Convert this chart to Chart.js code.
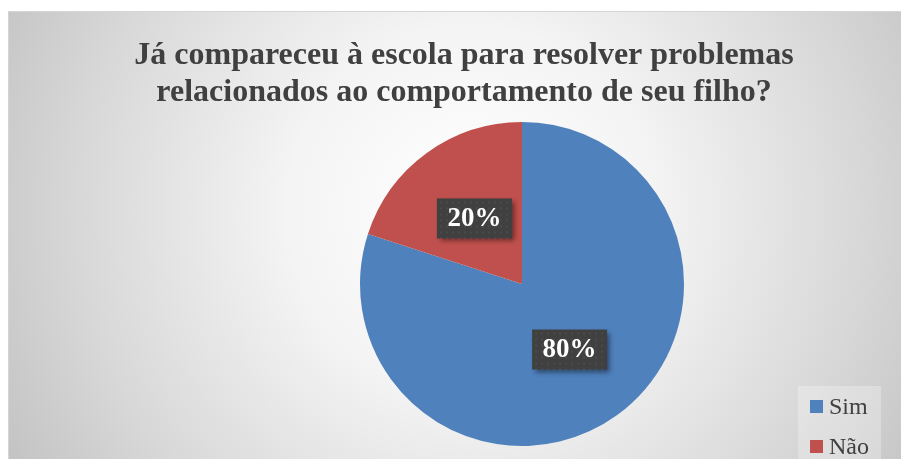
<!DOCTYPE html>
<html>
<head>
<meta charset="utf-8">
<script src="https://cdn.jsdelivr.net/npm/chart.js@4"></script>
<style>
  html, body { margin: 0; padding: 0; background: #fff; }
  #wrap { width: 901px; height: 459px; position: relative; }
</style>
</head>
<body>
<div id="wrap"><canvas id="pieChart" width="901" height="459"></canvas></div>
<script>
const titleLines = ['Já compareceu à escola para resolver problemas', 'relacionados ao comportamento de seu filho?'];
const labels = ['Sim', 'Não'];
const values = [80, 20];
const colors = ['#4F81BD', '#C0504D'];

// grey radial backdrop like the office chart area
const backdrop = {
  id: 'backdrop',
  beforeDraw(chart) {
    const ctx = chart.ctx;
    ctx.save();
    ctx.fillStyle = '#ffffff';
    ctx.fillRect(0, 0, chart.width, chart.height);
    const g = ctx.createRadialGradient(470, 210, 0, 470, 210, 520);
    g.addColorStop(0, '#ffffff');
    g.addColorStop(0.35, '#f4f4f4');
    g.addColorStop(0.75, '#d8d8d8');
    g.addColorStop(1, '#c4c4c4');
    ctx.fillStyle = g;
    ctx.fillRect(8, 11, chart.width - 8, chart.height - 11);
    ctx.strokeStyle = '#d4d4d4';
    ctx.lineWidth = 1;
    ctx.beginPath();
    ctx.moveTo(8.5, chart.height);
    ctx.lineTo(8.5, 11.5);
    ctx.lineTo(chart.width, 11.5);
    ctx.stroke();
    ctx.restore();
  }
};

// two-line title, centred over the whole frame (not over the pie)
const titleText = {
  id: 'titleText',
  afterDraw(chart) {
    const ctx = chart.ctx;
    ctx.save();
    ctx.font = 'bold 32px "Liberation Serif", "Times New Roman", serif';
    ctx.fillStyle = '#404040';
    ctx.textAlign = 'center';
    ctx.textBaseline = 'alphabetic';
    titleLines.forEach((line, i) => {
      ctx.fillText(line, 464, 64 + i * 37);
    });
    ctx.restore();
  }
};

// dark boxed percentage labels at half radius
const sliceLabels = {
  id: 'sliceLabels',
  afterDatasetsDraw(chart) {
    const ctx = chart.ctx;
    const meta = chart.getDatasetMeta(0);
    ctx.save();
    meta.data.forEach((arc, i) => {
      const pos = arc.tooltipPosition();
      const w = 75, h = 40;
      ctx.shadowColor = 'rgba(0,0,0,0.45)';
      ctx.shadowBlur = 5;
      ctx.shadowOffsetX = 3;
      ctx.shadowOffsetY = 3;
      ctx.fillStyle = '#404040';
      ctx.fillRect(pos.x - w / 2, pos.y - h / 2, w, h);
      ctx.shadowColor = 'transparent';
      // faint dotted texture
      ctx.fillStyle = 'rgba(255,255,255,0.06)';
      for (let dx = 3; dx < w; dx += 6) {
        for (let dy = 3; dy < h; dy += 6) {
          ctx.fillRect(pos.x - w / 2 + dx, pos.y - h / 2 + dy, 2, 2);
        }
      }
      ctx.font = 'bold 27px "Liberation Serif", "Times New Roman", serif';
      ctx.fillStyle = '#ffffff';
      ctx.textAlign = 'center';
      ctx.textBaseline = 'middle';
      ctx.fillText(values[i] + '%', pos.x, pos.y + 1);
    });
    ctx.restore();
  }
};

// legend box in the lower right corner
const cornerLegend = {
  id: 'cornerLegend',
  afterDraw(chart) {
    const ctx = chart.ctx;
    ctx.save();
    ctx.fillStyle = 'rgba(255,255,255,0.28)';
    ctx.fillRect(798, 386, 83, chart.height - 386);
    ctx.font = '24px "Liberation Serif", "Times New Roman", serif';
    ctx.textBaseline = 'middle';
    ctx.textAlign = 'left';
    labels.forEach((lab, i) => {
      const y = 406.5 + i * 40;
      ctx.fillStyle = colors[i];
      ctx.fillRect(810, y - 6.5, 13, 13);
      ctx.fillStyle = '#404040';
      ctx.fillText(lab, 829, y + 1);
    });
    ctx.restore();
  }
};

new Chart(document.getElementById('pieChart'), {
  type: 'pie',
  data: {
    labels: labels,
    datasets: [{
      data: values,
      backgroundColor: colors,
      borderWidth: 0
    }]
  },
  options: {
    responsive: false,
    animation: false,
    layout: {
      padding: { top: 122, bottom: 13, left: 300, right: 157 }
    },
    plugins: {
      legend: { display: false },
      title: { display: false },
      tooltip: { enabled: false }
    }
  },
  plugins: [backdrop, titleText, sliceLabels, cornerLegend]
});
</script>
</body>
</html>
